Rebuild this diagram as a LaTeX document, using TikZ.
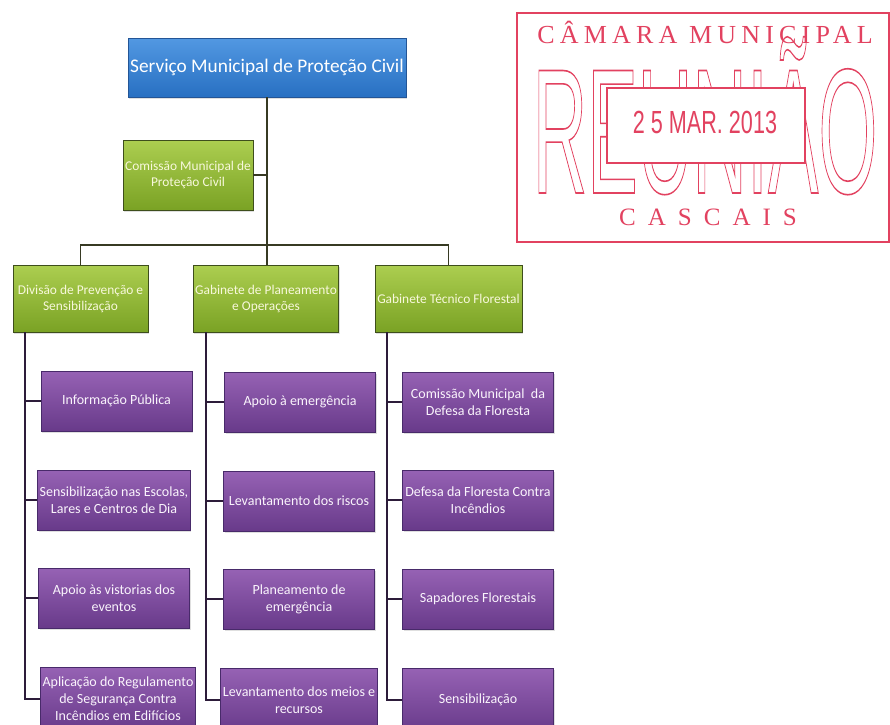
\documentclass[tikz,border=0pt]{standalone}
\usepackage{fontspec}
\setmainfont{Carlito}
\newfontfamily\stampserifA[LetterSpace=20]{Liberation Serif}
\newfontfamily\stampserifB[LetterSpace=48]{Liberation Serif}
\newfontfamily\stampsans{Liberation Sans}
\newcommand{\outlinetext}[1]{\special{pdf:literal direct 1 Tr 1.6 w}#1\special{pdf:literal direct 0 Tr}}
\usetikzlibrary{shadows}
\definecolor{bluetop}{RGB}{82,152,226}
\definecolor{bluebot}{RGB}{40,112,194}
\definecolor{bluedark}{RGB}{35,85,150}
\definecolor{greentop}{RGB}{172,206,80}
\definecolor{greenbot}{RGB}{122,162,36}
\definecolor{greendark}{RGB}{62,78,28}
\definecolor{greentext}{RGB}{248,248,220}
\definecolor{purptop}{RGB}{150,98,180}
\definecolor{purpbot}{RGB}{104,58,138}
\definecolor{purpdark}{RGB}{72,42,106}
\definecolor{purptext}{RGB}{250,244,252}
\definecolor{treecol}{RGB}{55,58,35}
\definecolor{colcol}{RGB}{45,28,58}
\definecolor{stampred}{RGB}{226,66,96}
\begin{document}
\begin{tikzpicture}[x=1pt,y=-1pt,
  shad/.style={drop shadow={opacity=0.25,shadow xshift=1pt,shadow yshift=-1.5pt}},
  bluebox/.style={rectangle,draw=bluedark,line width=0.8pt,top color=bluetop,bottom color=bluebot,
    text=white,font=\fontsize{19.3}{22}\selectfont,inner sep=2pt,shad},
  greenbox/.style={rectangle,draw=greendark,line width=0.8pt,top color=greentop,bottom color=greenbot,
    text=greentext,font=\fontsize{13.4}{16}\selectfont,align=center,inner sep=2pt,shad},
  purpbox/.style={rectangle,draw=purpdark,line width=0.8pt,top color=purptop,bottom color=purpbot,
    text=purptext,font=\fontsize{14}{17}\selectfont,align=center,inner sep=2pt,
    minimum width=151pt,minimum height=60pt,shad},
  treeline/.style={draw=treecol,line width=1.4pt},
  colline/.style={draw=colcol,line width=1.4pt},
  stamptext/.style={text=stampred,inner sep=0pt,anchor=base}
]
\useasboundingbox (0,0) rectangle (890,724);
\clip (0,0) rectangle (890,724);

% ---- tree ----
\node[bluebox,minimum width=278pt,minimum height=59pt] (top) at (267,67.5) {Serviço Municipal de Proteção Civil};
\node[greenbox,minimum width=130pt,minimum height=70pt] (comm) at (188,175) {Comissão Municipal de\\Proteção Civil};
\node[greenbox,minimum width=135pt,minimum height=67pt] (la) at (80.5,298.5) {Divisão de Prevenção e\\Sensibilização};
\node[greenbox,minimum width=145pt,minimum height=67pt] (lb) at (266,298.5) {Gabinete de Planeamento\\e Operações};
\node[greenbox,minimum width=147pt,minimum height=67pt] (lc) at (448.5,298.5) {Gabinete Técnico Florestal};

\coordinate (hub) at (267,245);
\draw[treeline] (top.south) -- (hub);
\draw[treeline] (comm.east) -- (comm.east -| hub);
\draw[treeline] (la.north) |- (hub) -| (lc.north);
\draw[treeline] (hub) -- (hub |- lb.north);

% column 1
\node[purpbox] (a1) at (116.5,401) {Informação Pública};
\node[purpbox] (a2) at (114,500) {Sensibilização nas Escolas,\\Lares e Centros de Dia};
\node[purpbox] (a3) at (114,598) {Apoio às vistorias dos\\eventos};
\node[purpbox,minimum height=64pt] (a4) at (118,699) {Aplicação do Regulamento\\de Segurança Contra\\Incêndios em Edifícios};
% column 2
\node[purpbox] (b1) at (300,402) {Apoio à emergência};
\node[purpbox] (b2) at (299,501) {Levantamento dos riscos};
\node[purpbox] (b3) at (299,599) {Planeamento de\\emergência};
\node[purpbox,minimum height=64pt] (b4) at (299,700) {Levantamento dos meios e\\recursos};
% column 3
\node[purpbox] (c1) at (478,402) {Comissão Municipal~ da\\Defesa da Floresta};
\node[purpbox] (c2) at (478,500) {Defesa da Floresta Contra\\Incêndios};
\node[purpbox] (c3) at (478,599) {Sapadores Florestais};
\node[purpbox,minimum height=64pt] (c4) at (478,700) {Sensibilização};

\coordinate (va) at (25,332);
\coordinate (vb) at (206,332);
\coordinate (vc) at (387,332);
\draw[colline] (va) |- (a4.west);
\draw[colline] (va |- a1.west) -- (a1.west);
\draw[colline] (va |- a2.west) -- (a2.west);
\draw[colline] (va |- a3.west) -- (a3.west);
\draw[colline] (vb) |- (b4.west);
\draw[colline] (vb |- b1.west) -- (b1.west);
\draw[colline] (vb |- b2.west) -- (b2.west);
\draw[colline] (vb |- b3.west) -- (b3.west);
\draw[colline] (vc) |- (c4.west);
\draw[colline] (vc |- c1.west) -- (c1.west);
\draw[colline] (vc |- c2.west) -- (c2.west);
\draw[colline] (vc |- c3.west) -- (c3.west);

% ---- stamp ----
\node[draw=stampred,line width=1.5pt,minimum width=372pt,minimum height=229pt,inner sep=0pt] (stamp) at (703,127.5) {};
\node[stamptext] (st1) at (705,43) {\stampserifA\fontsize{26}{26}\selectfont CÂMARA MUNICIPAL};
\node[stamptext] (st2) at (705,193) {\scalebox{0.425}[1]{\stampsans\fontsize{178}{178}\selectfont\outlinetext{REUNIÃO}}};
\node[draw=stampred,line width=1.3pt,fill=white,minimum width=198pt,minimum height=75pt,inner sep=0pt] (datebox) at (706,125.5) {};
\node[stamptext] (st3) at (705,133) {\scalebox{0.675}[1]{\stampsans\fontsize{32}{32}\selectfont 2 5 MAR. 2013}};
\node[stamptext] (st4) at (708,225) {\stampserifB\fontsize{25}{25}\selectfont CASCAIS};
\end{tikzpicture}
\end{document}
